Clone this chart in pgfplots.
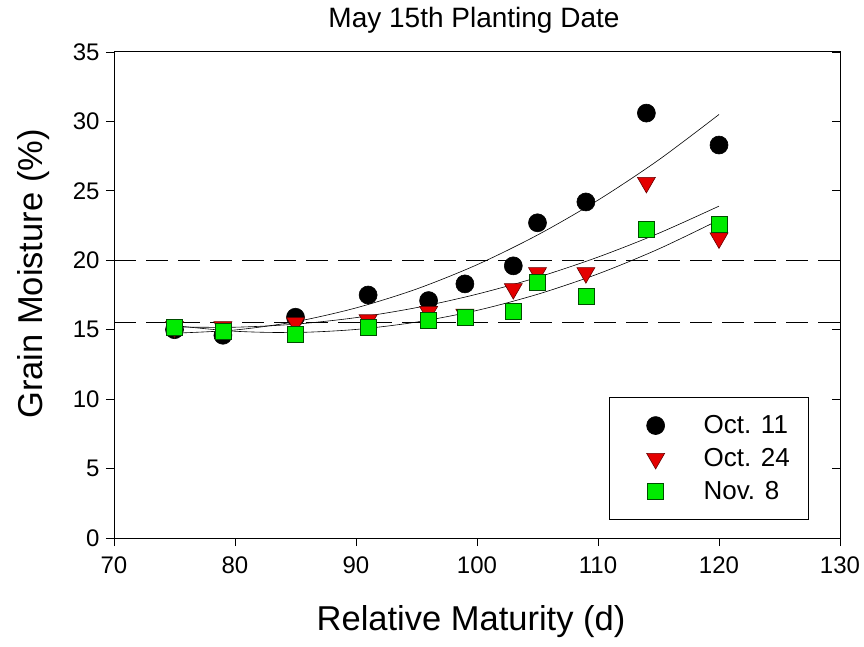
\documentclass[border=0pt]{standalone}
\usepackage{pgfplots}
\pgfplotsset{compat=1.18}
\usepackage{fontspec}
\setmainfont{Liberation Sans}
\definecolor{mkred}{RGB}{228,0,0}
\definecolor{mkgreen}{RGB}{0,235,0}
\pgfplotsset{myleg/.style={legend image code/.code={\path[draw=none,fill=none] (-46pt,-12pt) rectangle (48pt,12pt); \draw[##1] plot coordinates {(0pt,0pt)};}}}
\begin{document}
\begin{tikzpicture}[x=1pt,y=1pt]
\useasboundingbox (0,0) rectangle (864,646);
\begin{axis}[
  at={(114pt,108pt)}, anchor=south west, scale only axis,
  width=726pt, height=486pt,
  xmin=70, xmax=130, ymin=0, ymax=35,
  xtick={70,80,...,130}, ytick={0,5,...,35},
  tick align=outside, xtick pos=bottom, ytick pos=left,
  major tick length=8pt,
  tick style={black, line width=0.9pt},
  axis line style={line width=1pt},
  xticklabel={\fontsize{24}{28}\selectfont\pgfmathprintnumber[assume math mode=true]{\tick}},
  yticklabel={\fontsize{24}{28}\selectfont\pgfmathprintnumber[assume math mode=true]{\tick}},
  xticklabel style={yshift=-7pt},
  yticklabel style={xshift=-3pt},
  legend style={at={(0.682,0.290)}, anchor=north west, draw=black, line width=1pt,
    fill=white, inner xsep=0pt, inner ysep=16pt, row sep=9pt,
    font=\fontsize{26}{30}\selectfont, nodes={inner sep=0pt}},
  legend cell align=left,
]
\addplot[line width=0.6pt, smooth, forget plot] coordinates {
(75,14.75) (80,14.98) (85,15.58) (90,16.57) (95,17.93) (100,19.68) (105,21.82) (110,24.33) (115,27.22) (120,30.50)};
\addplot[line width=0.6pt, smooth, forget plot] coordinates {
(75,15.20) (80,15.18) (85,15.40) (90,15.87) (95,16.59) (100,17.56) (105,18.77) (110,20.23) (115,21.94) (120,23.90)};
\addplot[line width=0.6pt, smooth, forget plot] coordinates {
(75,15.30) (80,14.89) (85,14.80) (90,15.02) (95,15.55) (100,16.39) (105,17.55) (110,19.02) (115,20.81) (120,22.90)};
\addplot[line width=1.2pt, dash pattern=on 22pt off 10pt, forget plot] coordinates {(70,20) (130,20)};
\addplot[line width=1.2pt, dash pattern=on 22pt off 10pt, forget plot] coordinates {(70,15.5) (130,15.5)};

\addplot[only marks, mark=*, mark size=9pt, mark options={fill=black, draw=black, line width=0.6pt}, myleg]
coordinates {(75,15.0) (79,14.6) (85,15.9) (91,17.5) (96,17.1) (99,18.3) (103,19.6) (105,22.7) (109,24.2) (114,30.6) (120,28.3)};
\addlegendentry{\makebox[105pt][l]{Oct. 11}}
\addplot[only marks, mark=triangle*, mark size=10.4pt, mark options={rotate=180, fill=mkred, draw=black!60!red, line width=0.6pt}, myleg]
coordinates {(75,15.2) (79,15.2) (85,15.5) (91,15.7) (96,16.3) (99,16.1) (103,17.95) (105,19.1) (109,19.1) (114,25.6) (120,21.6)};
\addlegendentry{\makebox[105pt][l]{Oct. 24}}
\addplot[only marks, mark=square*, mark size=8pt, mark options={fill=mkgreen, draw=black!70!green, line width=0.6pt}, myleg]
coordinates {(75,15.2) (79,14.9) (85,14.7) (91,15.2) (96,15.7) (99,15.9) (103,16.3) (105,18.4) (109,17.4) (114,22.2) (120,22.6)};
\addlegendentry{\makebox[105pt][l]{Nov. 8}}
\end{axis}
\begin{axis}[
  at={(114pt,108pt)}, anchor=south west, scale only axis,
  width=726pt, height=486pt,
  xmin=70, xmax=130, ymin=0, ymax=35,
  xtick=\empty, ytick={0,5,...,35}, yticklabels={},
  tick align=inside, ytick pos=right,
  major tick length=8pt,
  tick style={black, line width=0.9pt},
  axis line style={line width=1pt},
]
\end{axis}
\node[font=\fontsize{28}{32}\selectfont] at (474,626) {May 15th Planting Date};
\node[font=\fontsize{34.5}{40}\selectfont] at (471,24) {Relative Maturity (d)};
\node[font=\fontsize{34.5}{40}\selectfont, rotate=90] at (34,372) {Grain Moisture (\%)};
\end{tikzpicture}
\end{document}
